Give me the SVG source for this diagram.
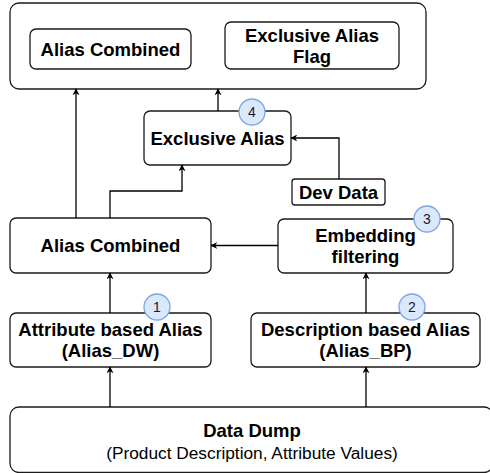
<svg xmlns="http://www.w3.org/2000/svg" width="490" height="473" viewBox="0 0 490 473">
<defs>
<style>
.box{fill:#ffffff;stroke:#1a1a1a;stroke-width:1.3}
.b{font-family:"Liberation Sans",Arial,sans-serif;font-weight:bold;font-size:18.5px;fill:#000;text-anchor:middle}
.n{font-family:"Liberation Sans",Arial,sans-serif;font-size:17.3px;fill:#000;text-anchor:middle}
.badge{fill:#dae8fc;stroke:#7ea6e0;stroke-width:1.3}
.bt{font-family:"Liberation Sans",Arial,sans-serif;font-size:14px;fill:#1a1a1a;text-anchor:middle}
.edge{fill:none;stroke:#000;stroke-width:1.3;marker-end:url(#arr)}
</style>
<marker id="arr" viewBox="0 0 10 10" refX="9" refY="5" markerWidth="7" markerHeight="7" markerUnits="userSpaceOnUse" orient="auto">
<path d="M0,0 L10,5 L0,10 L3,5 z" fill="#000"/>
</marker>
</defs>
<rect width="490" height="473" fill="#ffffff"/>
<g id="output">
<rect class="box" x="10" y="3" width="416" height="86" rx="9"/>
</g>
<g id="out-alias-combined">
<rect class="box" x="30" y="29" width="161" height="40" rx="6"/>
<text class="b" x="110.5" y="55.6">Alias Combined</text>
</g>
<g id="out-exclusive-flag">
<rect class="box" x="225" y="22" width="174" height="47" rx="6"/>
<text class="b" x="312" y="41.6">Exclusive Alias</text>
<text class="b" x="312" y="62.6">Flag</text>
</g>
<g id="exclusive-alias">
<rect class="box" x="144" y="111" width="147" height="54" rx="6"/>
<text class="b" x="217.5" y="144.6">Exclusive Alias</text>
</g>
<g id="dev-data">
<rect class="box" x="292" y="179" width="93" height="26" rx="3"/>
<text class="b" x="338.5" y="198.6">Dev Data</text>
</g>
<g id="alias-combined">
<rect class="box" x="10" y="218" width="201" height="55" rx="6"/>
<text class="b" x="110.5" y="252">Alias Combined</text>
</g>
<g id="embedding-filtering">
<rect class="box" x="278" y="219" width="175" height="54" rx="6"/>
<text class="b" x="365.5" y="241.6">Embedding</text>
<text class="b" x="365.5" y="262.6">filtering</text>
</g>
<g id="attribute-alias">
<rect class="box" x="10" y="313" width="201" height="54" rx="6"/>
<text class="b" x="110.5" y="336.1">Attribute based Alias</text>
<text class="b" x="110.5" y="357.1">(Alias_DW)</text>
</g>
<g id="description-alias">
<rect class="box" x="251" y="313" width="229" height="54" rx="6"/>
<text class="b" x="365.5" y="336.1">Description based Alias</text>
<text class="b" x="365.5" y="357.1">(Alias_BP)</text>
</g>
<g id="data-dump">
<rect class="box" x="10" y="407" width="483" height="65.5" rx="9"/>
<text class="b" x="252" y="437">Data Dump</text>
<text class="n" x="252" y="459">(Product Description, Attribute Values)</text>
</g>
<g id="connectors">
<path class="edge" d="M76,218 V89"/>
<path class="edge" d="M110,218 V191 H182 V165"/>
<path class="edge" d="M218,111 V89"/>
<path class="edge" d="M339,179 V138 H291"/>
<path class="edge" d="M278,245.5 H211"/>
<path class="edge" d="M110,313 V273"/>
<path class="edge" d="M366,313 V273"/>
<path class="edge" d="M110,407 V367"/>
<path class="edge" d="M366,407 V367"/>
</g>
<g id="badge-1">
<circle class="badge" cx="157" cy="307" r="13"/>
<text class="bt" x="157" y="312">1</text>
</g>
<g id="badge-2">
<circle class="badge" cx="412" cy="307" r="13"/>
<text class="bt" x="412" y="312">2</text>
</g>
<g id="badge-3">
<circle class="badge" cx="427" cy="219" r="13"/>
<text class="bt" x="427" y="224">3</text>
</g>
<g id="badge-4">
<circle class="badge" cx="252" cy="112" r="13"/>
<text class="bt" x="252" y="117">4</text>
</g>
</svg>
